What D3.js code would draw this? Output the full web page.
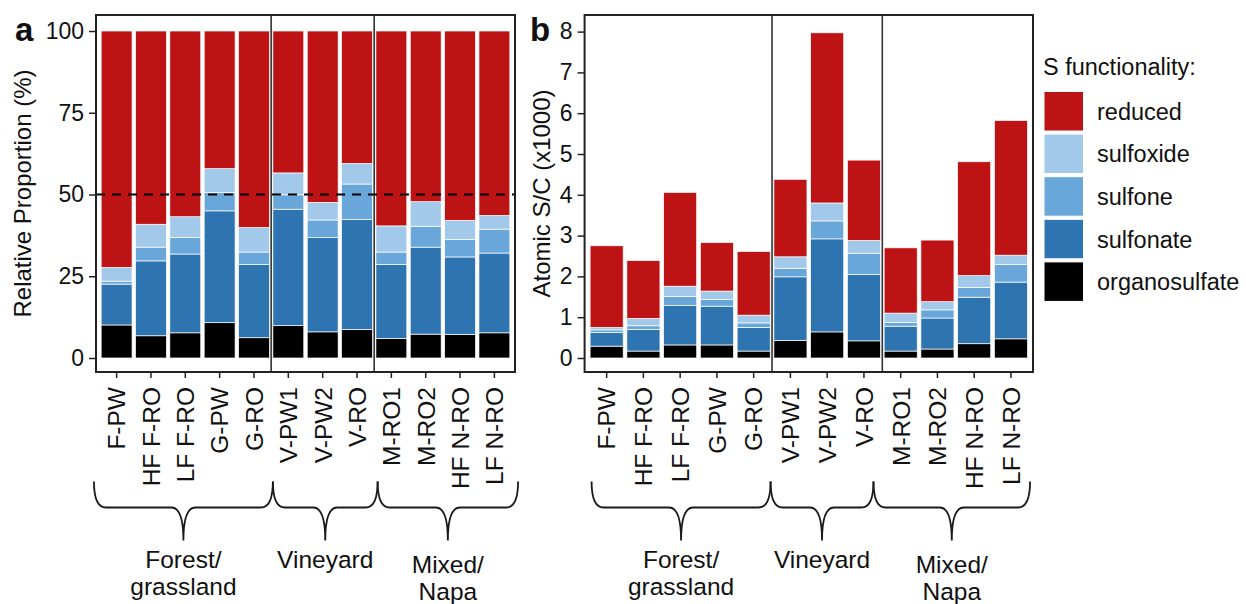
<!DOCTYPE html>
<html><head><meta charset="utf-8">
<script src="https://cdn.jsdelivr.net/npm/d3@7/dist/d3.min.js"></script>
<style>
body{margin:0;background:#fff;}
text{font-family:"Liberation Sans",Arial,sans-serif;fill:#111;}
</style></head>
<body><svg id="c" width="1246" height="604"></svg>
<script>
// ---------- data ----------
const categories = ["F-PW","HF F-RO","LF F-RO","G-PW","G-RO","V-PW1","V-PW2","V-RO","M-RO1","M-RO2","HF N-RO","LF N-RO"];
const functionalities = ["organosulfate","sulfonate","sulfone","sulfoxide","reduced"]; // stack order bottom->top
const legendOrder = ["reduced","sulfoxide","sulfone","sulfonate","organosulfate"];
// Panel a: relative proportion (%)
const propOrganosulfate = [10.1, 6.8, 7.7, 10.8, 6.2, 9.9, 8.0, 8.7, 6.0, 7.3, 7.2, 7.7];
const propSulfonate     = [12.5,22.9,24.1,34.2,22.4,35.6,28.8,33.7,22.6,26.6,23.7,24.4];
const propSulfone       = [ 0.9, 4.2, 5.0, 5.6, 3.8, 4.4, 5.4,10.8, 3.8, 6.4, 5.3, 7.3];
const propSulfoxide     = [ 4.2, 7.0, 6.4, 7.3, 7.5, 6.7, 5.4, 6.3, 8.0, 7.5, 5.9, 4.2];
const propReduced       = [72.3,59.1,56.8,42.1,60.1,43.4,52.4,40.5,59.6,52.2,57.9,56.4];
// Panel b: atomic S/C (x1000)
const scOrganosulfate = [0.29,0.17,0.32,0.32,0.17,0.43,0.64,0.42,0.17,0.22,0.35,0.47];
const scSulfonate     = [0.34,0.53,0.97,0.95,0.58,1.56,2.28,1.63,0.61,0.76,1.14,1.39];
const scSulfone       = [0.06,0.09,0.22,0.16,0.11,0.21,0.44,0.52,0.09,0.20,0.24,0.43];
const scSulfoxide     = [0.06,0.18,0.25,0.21,0.19,0.28,0.44,0.31,0.23,0.20,0.29,0.23];
const scReduced       = [2.00,1.42,2.30,1.19,1.56,1.90,4.17,1.97,1.60,1.51,2.79,3.30];
const yTicksA = [0,25,50,75,100];
const yTicksB = [0,1,2,3,4,5,6,7,8];
const groups = [
  {lines:["Forest/","grassland"], first:0, last:4},
  {lines:["Vineyard"], first:5, last:7},
  {lines:["Mixed/","Napa"], first:8, last:11}
];
const colors = {reduced:"#BD1315", sulfoxide:"#A3C9EA", sulfone:"#69A6DA", sulfonate:"#2D74B0", organosulfate:"#000000"};

// ---------- build ----------
function rows(arrs){
  return categories.map((c,i)=>{
    const r={cat:c};
    functionalities.forEach((f,k)=>r[f]=arrs[k][i]);
    return r;
  });
}
const dataA = rows([propOrganosulfate,propSulfonate,propSulfone,propSulfoxide,propReduced]);
const dataB = rows([scOrganosulfate,scSulfonate,scSulfone,scSulfoxide,scReduced]);

const svg = d3.select("#c");
const frameTop = 15, frameBottom = 372;

function panel(opt){
  const g = svg.append("g");
  const x = d3.scaleBand().domain(categories).range([opt.left,opt.right]).paddingInner(0.1).paddingOuter(0.15);
  const y = d3.scaleLinear().domain(opt.ydom).range([358, opt.yTopPx]);
  const stack = d3.stack().keys(functionalities)(opt.data);
  g.selectAll("g.s").data(stack).join("g").attr("fill",d=>colors[d.key])
    .selectAll("rect").data(d=>d).join("rect")
    .attr("x",d=>x(d.data.cat)).attr("width",x.bandwidth())
    .attr("y",d=>y(d[1])).attr("height",d=>y(d[0])-y(d[1]))
    .attr("stroke","#fff").attr("stroke-width",0.7);
  // separators
  const step = x.step();
  [4,7].forEach(i=>{
    const sx = x(categories[i]) + x.bandwidth()/2 + step/2;
    g.append("line").attr("x1",sx).attr("x2",sx).attr("y1",frameTop).attr("y2",frameBottom)
      .attr("stroke","#333").attr("stroke-width",1.6);
  });
  if(opt.hline!==undefined){
    g.append("line").attr("x1",opt.left).attr("x2",opt.right).attr("y1",y(opt.hline)).attr("y2",y(opt.hline))
      .attr("stroke","#000").attr("stroke-width",2).attr("stroke-dasharray","9,7");
  }
  // frame
  g.append("rect").attr("x",opt.left).attr("y",frameTop).attr("width",opt.right-opt.left).attr("height",frameBottom-frameTop)
    .attr("fill","none").attr("stroke","#222").attr("stroke-width",2);
  // y axis
  const ya = g.append("g").attr("transform",`translate(${opt.left},0)`)
    .call(d3.axisLeft(y).tickValues(opt.yticks).tickSize(7).tickPadding(5));
  ya.select(".domain").remove();
  ya.selectAll("line").attr("stroke","#222").attr("stroke-width",1.5);
  ya.selectAll("text").attr("font-size",23).attr("fill","#111").attr("font-family","Liberation Sans, Arial, sans-serif");
  // x axis
  const xa = g.append("g").attr("transform",`translate(0,${frameBottom})`)
    .call(d3.axisBottom(x).tickSize(6).tickPadding(0));
  xa.select(".domain").remove();
  xa.selectAll("line").attr("stroke","#222").attr("stroke-width",1.5);
  xa.selectAll("text").attr("font-size",24.5).attr("fill","#111").attr("font-family","Liberation Sans, Arial, sans-serif")
    .attr("text-anchor","end").attr("transform","translate(0,15) rotate(-90)").attr("dy","0.36em").attr("x",0).attr("y",0);
  // axis title
  g.append("text").attr("transform",`translate(${opt.titleX},${(frameTop+frameBottom)/2}) rotate(-90)`)
    .attr("text-anchor","middle").attr("font-size",24).text(opt.title);
  // panel label
  g.append("text").attr("x",opt.labelX).attr("y",41).attr("font-size",33).attr("font-weight","bold").text(opt.label);
  // braces
  const pos = p => opt.left + (p-0.4)*step; // p in 1-indexed category units
  const yTop = 481.5, yFlat = 507.5, yTip = 540.5, r = 12;
  groups.forEach((gr,k)=>{
    const x0 = pos(opt.braceBounds[k]), x1 = pos(opt.braceBounds[k+1]), xm = (x0+x1)/2;
    const path = `M${x0},${yTop} Q${x0},${yFlat} ${x0+r},${yFlat} L${xm-r},${yFlat} Q${xm},${yFlat} ${xm},${yTip}`
      + ` M${xm},${yTip} Q${xm},${yFlat} ${xm+r},${yFlat} L${x1-r},${yFlat} Q${x1},${yFlat} ${x1},${yTop}`;
    g.append("path").attr("d",path).attr("fill","none").attr("stroke","#1a1a1a").attr("stroke-width",1.8);
    const baseY = gr.lines.length>1 && k===2 ? 573 : 568;
    gr.lines.forEach((t,j)=>{
      g.append("text").attr("x",xm).attr("y",baseY + j*27).attr("text-anchor","middle").attr("font-size",24.5).text(t);
    });
  });
}

panel({data:dataA,left:96,right:515,ydom:[0,100],yTopPx:31,yticks:yTicksA,hline:50,
  title:"Relative Proportion (%)",titleX:31,label:"a",labelX:15,braceBounds:[0.34,5.55,8.6,12.69]});
panel({data:dataB,left:584.6,right:1033,ydom:[0,8],yTopPx:31.6,yticks:yTicksB,
  title:"Atomic S/C (x1000)",titleX:550,label:"b",labelX:530,braceBounds:[0.59,5.46,8.26,12.52]});

// legend
const lg = svg.append("g");
lg.append("text").attr("x",1043).attr("y",75).attr("font-size",23.5).text("S functionality:");
legendOrder.forEach((k,i)=>{
  const yy = 91.5 + i*42.6;
  lg.append("rect").attr("x",1044).attr("y",yy).attr("width",39.5).attr("height",39.5)
    .attr("fill",colors[k]).attr("stroke","#fff").attr("stroke-width",1);
  lg.append("text").attr("x",1097).attr("y",yy+19.75).attr("dy","0.36em").attr("font-size",23.5).text(k);
});
</script></body></html>
